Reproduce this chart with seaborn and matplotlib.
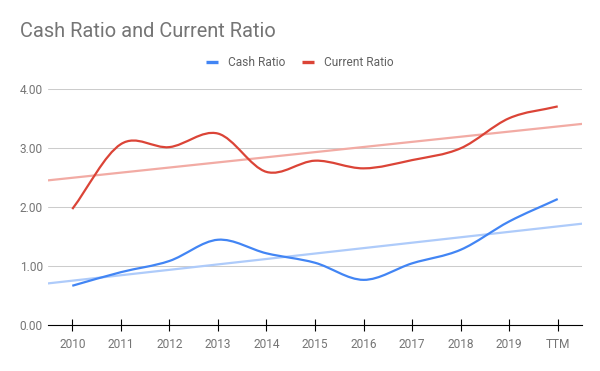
import numpy as np
import pandas as pd
import matplotlib
matplotlib.use("Agg")
import matplotlib.pyplot as plt
from matplotlib.path import Path
from matplotlib.patches import PathPatch
from matplotlib.lines import Line2D
import seaborn as sns

# values
years = ["2010", "2011", "2012", "2013", "2014", "2015", "2016", "2017", "2018", "2019", "TTM"]
cash_ratio = [0.67, 0.90, 1.09, 1.45, 1.22, 1.06, 0.77, 1.05, 1.28, 1.76, 2.14]
current_ratio = [1.97, 3.07, 3.02, 3.25, 2.60, 2.79, 2.66, 2.80, 3.00, 3.51, 3.71]
# linear trendlines as drawn in the chart: value at 2010 and change per period
cash_trend = (0.756, 0.092)
current_trend = (2.50, 0.087)

BLUE = "#4285F4"
RED = "#DB4437"
BLUE_LIGHT = "#AECBFA"
RED_LIGHT = "#F2ABA4"
GREY = "#757575"

sns.set_theme(style="white")
plt.rcParams["font.family"] = ["Roboto", "DejaVu Sans"]


def smooth_path(xs, ys):
    # catmull-rom style bezier through the points
    pts = np.column_stack([xs, ys]).astype(float)
    n = len(pts)
    tang = np.zeros_like(pts)
    tang[0] = pts[1] - pts[0]
    tang[-1] = pts[-1] - pts[-2]
    tang[1:-1] = (pts[2:] - pts[:-2]) / 2
    verts = [pts[0]]
    codes = [Path.MOVETO]
    for i in range(n - 1):
        verts += [pts[i] + tang[i] / 3, pts[i + 1] - tang[i + 1] / 3, pts[i + 1]]
        codes += [Path.CURVE4] * 3
    return Path(verts, codes)


pos = np.arange(len(years))

fig = plt.figure(figsize=(6, 3.71), dpi=100)
ax = fig.add_axes([0.08, 0.1232, 0.89, 0.6361])

# trendlines across the whole plot width
edges = np.array([-0.5, len(years) - 0.5])
trend = pd.DataFrame({
    "x": np.concatenate([edges, edges]),
    "y": np.concatenate([cash_trend[0] + cash_trend[1] * edges,
                         current_trend[0] + current_trend[1] * edges]),
    "series": ["Cash Ratio"] * 2 + ["Current Ratio"] * 2,
})
sns.lineplot(data=trend, x="x", y="y", hue="series",
             palette={"Cash Ratio": BLUE_LIGHT, "Current Ratio": RED_LIGHT},
             linewidth=1.6, legend=False, ax=ax, zorder=2)

for vals, col in [(cash_ratio, BLUE), (current_ratio, RED)]:
    ax.add_patch(PathPatch(smooth_path(pos, vals), fill=False, edgecolor=col,
                           linewidth=1.6, capstyle="butt", zorder=3))

ax.set_xlim(-0.5, len(years) - 0.5)
ax.set_ylim(0, 4)
ax.set_xticks(pos)
ax.set_xticklabels(years)
ax.set_yticks([0, 1, 2, 3, 4])
ax.set_yticklabels([f"{v:.2f}" for v in [0, 1, 2, 3, 4]])
ax.set_xlabel("")
ax.set_ylabel("")

ax.grid(axis="y", color="#CCCCCC", linewidth=0.75)
ax.grid(axis="x", visible=False)
for s in ["top", "right", "left"]:
    ax.spines[s].set_visible(False)
ax.spines["bottom"].set_color("black")
ax.spines["bottom"].set_linewidth(0.8)
ax.spines["bottom"].set_zorder(4)

ax.tick_params(axis="x", direction="inout", length=8.6, width=0.8, color="black",
               labelsize=8.6, labelcolor=GREY, pad=5, bottom=True)
ax.tick_params(axis="y", length=0, labelsize=8.6, labelcolor=GREY, pad=3.8)

fig.text(20 / 600, 1 - 37 / 371, "Cash Ratio and Current Ratio",
         fontsize=14.4, color=GREY, va="baseline", ha="left")

handles = [Line2D([], [], color=BLUE, linewidth=2.4, solid_capstyle="butt"),
           Line2D([], [], color=RED, linewidth=2.4, solid_capstyle="butt")]
fig.legend(handles, ["Cash Ratio", "Current Ratio"], loc="center",
           bbox_to_anchor=(0.5, 1 - 62.7 / 371), ncol=2, frameon=False,
           fontsize=8.6, labelcolor="#616161", handlelength=1.0,
           handletextpad=0.85, columnspacing=1.4)

fig.savefig("out.png", dpi=100)
